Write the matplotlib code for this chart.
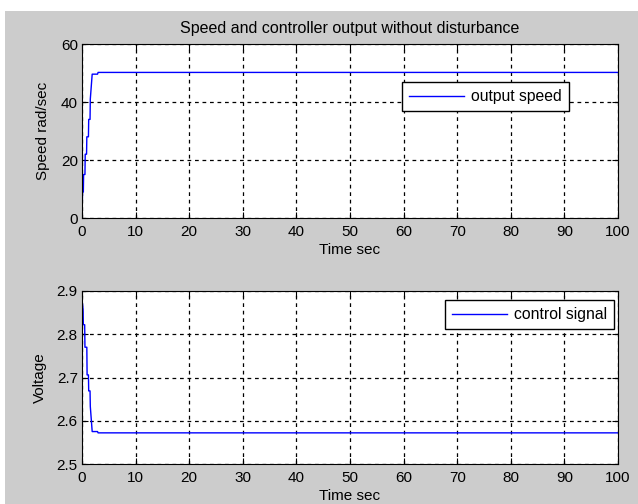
import matplotlib.pyplot as plt
from matplotlib.patches import Rectangle

plt.rcParams['font.family'] = ['Liberation Sans', 'DejaVu Sans']

# speed response (rad/sec)
t_speed = [0, 0.1, 0.25, 0.3, 0.55, 0.6, 0.85, 0.9, 1.2, 1.25, 1.5, 1.55, 1.9, 2.9, 3.0, 100]
speed = [0, 9, 9, 15, 15, 22, 22, 28, 28, 34, 34, 41, 49.6, 49.6, 50.2, 50.2]

# controller output (V)
t_ctrl = [0, 0.2, 0.25, 0.5, 0.55, 0.9, 0.95, 1.2, 1.25, 1.5, 1.55, 1.9, 2.9, 3.0, 100]
ctrl = [2.88, 2.858, 2.822, 2.822, 2.77, 2.77, 2.706, 2.706, 2.669, 2.669, 2.633, 2.575, 2.575, 2.572, 2.572]

fig = plt.figure(figsize=(6.38, 5.04), dpi=100, facecolor='white')
fig.patches.append(Rectangle((5 / 638, 0), 1, (504 - 11) / 504, transform=fig.transFigure,
                             facecolor='#cccccc', edgecolor='none', zorder=-1))

W, H = 638, 504
ax1 = fig.add_axes([82 / W, 1 - 218 / H, (618 - 82) / W, (218 - 44) / H])
ax2 = fig.add_axes([82 / W, 1 - 464 / H, (618 - 82) / W, (464 - 291) / H])

ax1.plot(t_speed, speed, color='blue', lw=1, label='output speed')
ax2.plot(t_ctrl, ctrl, color='blue', lw=1, label='control signal')

ax1.set_ylim(0, 60)
ax1.set_yticks([0, 20, 40, 60])
ax2.set_ylim(2.5, 2.9)
ax2.set_yticks([2.5, 2.6, 2.7, 2.8, 2.9])

fs = 11
for ax in (ax1, ax2):
    ax.set_xlim(0, 100)
    ax.set_xticks(range(0, 101, 10))
    ax.grid(True, color='black', linestyle=(0, (3, 3)), lw=0.9)
    ax.tick_params(direction='in', top=True, right=True, labelsize=fs, length=4)
    ax.tick_params(axis='x', pad=5)
    ax.tick_params(axis='y', pad=3)
    for s in ax.spines.values():
        s.set_linewidth(0.8)
    ax.set_xlabel('Time sec', fontsize=fs, labelpad=3)

ax1.set_ylabel('Speed rad/sec', fontsize=fs, labelpad=8)
ax2.set_ylabel('Voltage', fontsize=fs, labelpad=7)
ax1.set_title('Speed and controller output without disturbance', fontsize=11.5, pad=8)

leg_kw = dict(frameon=True, fancybox=False, edgecolor='black', framealpha=1, fontsize=11.3,
              borderpad=0.45, handlelength=3.5, handletextpad=0.45, borderaxespad=0)
ax1.legend(loc='upper left', bbox_to_anchor=((402 - 82) / 536, 1 - (82 - 44) / 174), **leg_kw)
ax2.legend(loc='upper left', bbox_to_anchor=((445 - 82) / 536, 1 - (300 - 291) / 173), **leg_kw)

fig.savefig('out.png', dpi=100, facecolor=fig.get_facecolor())
